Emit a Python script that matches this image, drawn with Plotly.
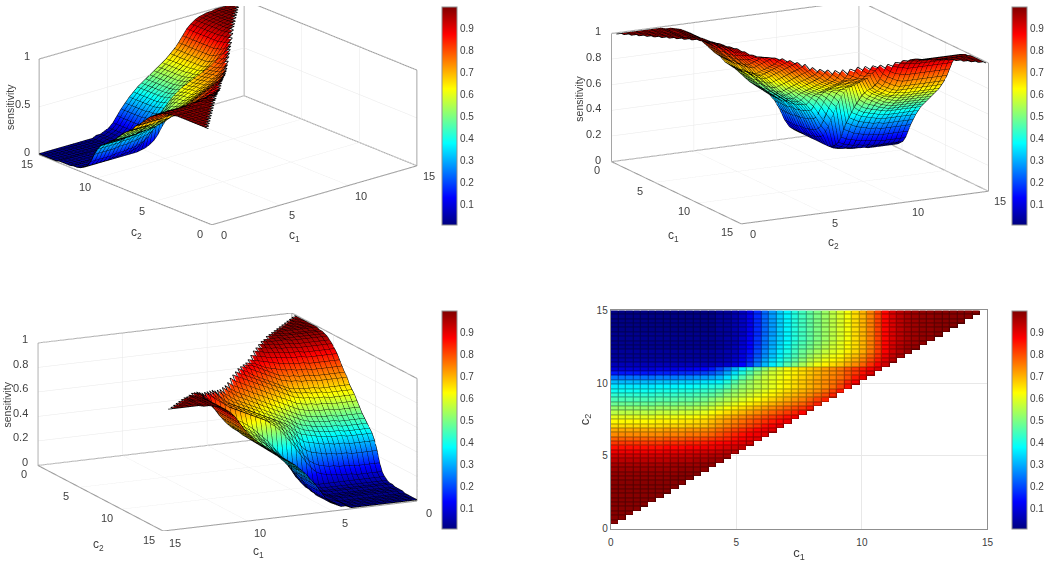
import math
import numpy as np
import plotly.graph_objects as go

c1 = [round(0.3 * i, 1) for i in range(51)]
c2 = [round(0.3 * i, 1) for i in range(51)]

# sensitivity in percent; row k is c2 = 0.3*k and has k cells
sens_rows = [
    [99],
    [99, 99],
    [99, 99, 99],
    [99, 99, 99, 99],
    [99, 99, 99, 99, 99],
    [99, 99, 99, 99, 99, 99],
    [99, 99, 99, 99, 99, 99, 99],
    [99, 99, 99, 99, 99, 99, 99, 99],
    [99, 99, 99, 99, 99, 99, 99, 99, 99],
    [99, 99, 99, 99, 99, 99, 99, 99, 99, 99],
    [98, 98, 98, 98, 98, 98, 98, 98, 99, 99, 99],
    [98, 98, 98, 98, 98, 98, 98, 98, 98, 99, 99, 99],
    [97, 97, 97, 97, 97, 97, 97, 97, 97, 98, 98, 98, 98],
    [96, 96, 96, 96, 96, 96, 96, 96, 97, 97, 97, 97, 98, 98],
    [94, 94, 94, 94, 94, 94, 94, 94, 95, 95, 95, 96, 96, 97, 97],
    [92, 92, 92, 92, 92, 92, 92, 92, 93, 93, 93, 94, 94, 95, 95, 96],
    [89, 89, 89, 89, 89, 89, 89, 90, 90, 90, 91, 91, 92, 92, 93, 94, 95],
    [86, 86, 86, 86, 86, 86, 86, 87, 87, 87, 88, 88, 89, 89, 90, 91, 92, 93],
    [82, 82, 82, 82, 82, 82, 82, 83, 83, 83, 84, 84, 85, 86, 87, 88, 89, 90, 91],
    [78, 78, 78, 78, 78, 78, 78, 79, 79, 79, 80, 80, 81, 82, 83, 84, 86, 88, 89, 90],
    [74, 74, 74, 74, 74, 74, 74, 75, 75, 75, 76, 76, 77, 78, 80, 82, 84, 86, 88, 89, 90],
    [71, 71, 71, 71, 71, 71, 71, 72, 72, 72, 73, 73, 74, 75, 77, 79, 81, 83, 85, 87, 89, 90],
    [66, 66, 66, 66, 66, 66, 66, 67, 67, 67, 68, 68, 69, 71, 73, 75, 77, 79, 81, 83, 86, 88, 90],
    [63, 63, 63, 63, 63, 63, 64, 64, 64, 65, 65, 66, 67, 69, 71, 73, 75, 77, 79, 81, 83, 85, 87, 89],
    [60, 60, 60, 60, 60, 60, 61, 61, 61, 62, 62, 63, 64, 66, 68, 70, 72, 74, 76, 78, 80, 82, 84, 86, 88],
    [56, 56, 56, 56, 56, 56, 57, 57, 57, 58, 58, 59, 60, 62, 64, 66, 68, 70, 72, 74, 76, 78, 80, 82, 84, 87],
    [52, 52, 52, 52, 52, 52, 53, 53, 53, 54, 54, 55, 56, 58, 60, 62, 64, 66, 68, 70, 72, 74, 76, 78, 80, 82, 85],
    [48, 48, 48, 48, 48, 48, 49, 49, 49, 50, 50, 51, 52, 54, 56, 58, 60, 62, 64, 66, 68, 70, 72, 74, 76, 78, 81, 84],
    [45, 45, 45, 45, 45, 45, 46, 46, 46, 47, 47, 48, 49, 51, 53, 55, 57, 59, 61, 63, 65, 67, 69, 71, 73, 75, 78, 81, 84],
    [42, 42, 42, 42, 42, 42, 43, 43, 43, 44, 44, 45, 46, 47, 49, 52, 54, 56, 58, 60, 62, 64, 66, 68, 70, 72, 74, 77, 80, 84],
    [39, 39, 39, 39, 39, 39, 40, 40, 40, 41, 41, 42, 43, 44, 46, 49, 52, 54, 56, 58, 60, 62, 64, 66, 68, 70, 72, 74, 77, 81, 85],
    [36, 36, 36, 36, 36, 36, 37, 37, 37, 38, 38, 39, 40, 41, 42, 45, 49, 52, 54, 56, 58, 60, 62, 64, 66, 68, 70, 72, 74, 77, 81, 86],
    [31, 31, 31, 31, 31, 31, 32, 32, 32, 33, 33, 34, 35, 36, 37, 41, 46, 50, 53, 56, 58, 60, 62, 64, 66, 68, 70, 72, 74, 76, 79, 84, 88],
    [24, 24, 24, 24, 24, 24, 25, 25, 25, 26, 26, 27, 28, 29, 31, 35, 41, 46, 50, 54, 57, 59, 61, 63, 65, 67, 69, 71, 73, 75, 77, 80, 85, 89],
    [15, 15, 15, 15, 15, 15, 16, 16, 16, 17, 17, 18, 19, 21, 24, 29, 35, 41, 46, 51, 55, 58, 60, 62, 64, 66, 68, 70, 72, 74, 76, 79, 82, 86, 90],
    [9, 9, 9, 9, 9, 9, 10, 10, 10, 11, 11, 12, 13, 15, 19, 24, 30, 36, 42, 47, 52, 56, 59, 62, 64, 66, 68, 70, 72, 74, 76, 79, 82, 85, 88, 91],
    [6, 6, 6, 6, 6, 6, 6, 6, 6, 6, 6, 6, 6, 6, 7, 8, 10, 13, 18, 25, 31, 36, 41, 46, 50, 54, 58, 61, 64, 66, 68, 71, 74, 78, 83, 88, 92],
    [4, 4, 4, 4, 4, 4, 4, 4, 4, 4, 4, 4, 4, 4, 5, 6, 8, 11, 16, 23, 29, 34, 39, 43, 47, 51, 55, 58, 61, 63, 65, 68, 71, 75, 80, 85, 90, 94],
    [3, 3, 3, 3, 3, 3, 3, 3, 3, 3, 3, 3, 3, 3, 4, 5, 7, 10, 15, 21, 27, 32, 37, 41, 45, 49, 53, 56, 59, 61, 63, 66, 69, 73, 78, 83, 89, 93, 96],
    [3, 3, 3, 3, 3, 3, 3, 3, 3, 3, 3, 3, 3, 3, 4, 5, 6, 9, 14, 20, 26, 31, 36, 40, 44, 48, 51, 54, 57, 59, 61, 64, 67, 71, 76, 82, 88, 92, 95, 97],
    [2, 2, 2, 2, 2, 2, 2, 2, 2, 2, 2, 2, 2, 2, 3, 4, 6, 9, 13, 19, 25, 30, 35, 39, 43, 46, 49, 52, 55, 58, 60, 63, 66, 70, 75, 81, 87, 92, 95, 97, 98],
    [2, 2, 2, 2, 2, 2, 2, 2, 2, 2, 2, 2, 2, 2, 3, 4, 5, 8, 13, 18, 24, 29, 34, 38, 42, 45, 48, 51, 54, 57, 60, 63, 66, 70, 75, 81, 87, 91, 94, 96, 97, 98],
    [2, 2, 2, 2, 2, 2, 2, 2, 2, 2, 2, 2, 2, 2, 3, 4, 5, 8, 12, 18, 24, 29, 33, 37, 41, 44, 47, 50, 53, 56, 59, 62, 66, 70, 75, 81, 87, 91, 94, 96, 97, 98, 98],
    [2, 2, 2, 2, 2, 2, 2, 2, 2, 2, 2, 2, 2, 2, 3, 3, 5, 7, 12, 17, 23, 28, 33, 37, 41, 44, 47, 50, 53, 56, 59, 62, 66, 70, 75, 81, 87, 91, 94, 96, 97, 98, 98, 99],
    [1, 1, 1, 1, 1, 1, 1, 1, 1, 1, 1, 1, 1, 1, 3, 3, 5, 7, 11, 17, 23, 28, 33, 37, 41, 44, 47, 50, 53, 56, 59, 62, 66, 70, 75, 81, 87, 91, 94, 96, 97, 98, 98, 99, 99],
    [1, 1, 1, 1, 1, 1, 1, 1, 1, 1, 1, 1, 1, 1, 3, 3, 5, 7, 11, 17, 23, 28, 33, 37, 41, 44, 47, 50, 53, 56, 59, 62, 66, 70, 75, 81, 87, 91, 94, 96, 97, 98, 98, 99, 99, 99],
    [1, 1, 1, 1, 1, 1, 1, 1, 1, 1, 1, 1, 1, 1, 3, 3, 5, 7, 11, 17, 23, 28, 33, 37, 41, 44, 47, 50, 53, 56, 59, 62, 66, 70, 75, 81, 87, 91, 94, 96, 97, 98, 98, 99, 99, 99, 99],
    [1, 1, 1, 1, 1, 1, 1, 1, 1, 1, 1, 1, 1, 1, 3, 3, 5, 7, 11, 17, 23, 28, 33, 37, 41, 44, 47, 50, 53, 56, 59, 62, 66, 70, 75, 81, 87, 91, 94, 96, 97, 98, 98, 99, 99, 99, 99, 99],
    [1, 1, 1, 1, 1, 1, 1, 1, 1, 1, 1, 1, 1, 1, 3, 3, 5, 7, 11, 17, 23, 28, 33, 37, 41, 44, 47, 50, 53, 56, 59, 62, 66, 70, 75, 81, 87, 91, 94, 96, 97, 98, 98, 99, 99, 99, 99, 99, 99],
    [1, 1, 1, 1, 1, 1, 1, 1, 1, 1, 1, 1, 1, 1, 3, 3, 5, 7, 11, 17, 23, 28, 33, 37, 41, 44, 47, 50, 53, 56, 59, 62, 66, 70, 75, 81, 87, 91, 94, 96, 97, 98, 98, 99, 99, 99, 99, 99, 99, 99],
]

colorbar_ticks = [0.1, 0.2, 0.3, 0.4, 0.5, 0.6, 0.7, 0.8, 0.9]
z_ticks_top_left = [0, 0.5, 1]
z_ticks = [0, 0.2, 0.4, 0.6, 0.8, 1]
axis_ticks = [0, 5, 10, 15]

JET = [[0, '#000080'], [0.125, '#0000ff'], [0.375, '#00ffff'],
       [0.625, '#ffff00'], [0.875, '#ff0000'], [1, '#800000']]
JET_DARK = [[0, '#00004d'], [0.125, '#000099'], [0.375, '#009999'],
            [0.625, '#999900'], [0.875, '#990000'], [1, '#4d0000']]

W, H = 1050, 568
TEXT = '#404040'
FONT = 'Liberation Sans'
FRAME = '#8f8f8f'
GRID = '#e8e8e8'
Z_MIN, Z_MAX = 0.006, 0.998

sens = np.full((51, 51), np.nan)
for k, row in enumerate(sens_rows, start=1):
    sens[k, :len(row)] = np.array(row) / 100


def px_x(x0, x1):
    return [x0 / W, x1 / W]


def px_y(y0, y1):
    return [1 - y1 / H, 1 - y0 / H]


def colorbar(x0, y0, y1):
    return dict(x=x0 / W, xanchor='left', y=1 - y1 / H, yanchor='bottom',
                len=(y1 - y0) / H, thickness=15, outlinecolor=FRAME, outlinewidth=1,
                tickvals=colorbar_ticks, ticks='', xpad=0, ypad=0,
                tickfont=dict(family=FONT, size=10, color=TEXT))


def eye(azimuth, elevation, dist):
    a, e = math.radians(azimuth), math.radians(elevation)
    return dict(x=dist * math.cos(e) * math.cos(a),
                y=dist * math.cos(e) * math.sin(a),
                z=dist * math.sin(e))


def axis3d(ticks, rng):
    return dict(range=rng, tickvals=ticks, title='',
                showticklabels=False, showbackground=False, showgrid=True,
                gridcolor=GRID, gridwidth=1, zeroline=False, showline=False, ticks='',
                showspikes=False)


def label(x, y, z, text, dx, dy, **kw):
    # dx, dy are pixel offsets, right and down
    return dict(x=x, y=y, z=z, text=text, showarrow=False, xshift=dx, yshift=-dy,
                font=dict(family=FONT, size=kw.pop('size', 11), color=TEXT), **kw)


def scene_labels(c1_at, c2_at, z_at, c1_off, c2_off, z_off, z_vals, c1_title, c2_title, z_title):
    out = []
    for t in axis_ticks:
        out.append(label(t, c1_at, 0, str(t), *c1_off))
        out.append(label(c2_at, t, 0, str(t), *c2_off))
    for t in z_vals:
        out.append(label(z_at[0], z_at[1], t, str(t), *z_off, xanchor='right'))
    out.append(label(7.5, c1_at, 0, 'c<sub>1</sub>', *c1_title, size=12))
    out.append(label(c2_at, 7.5, 0, 'c<sub>2</sub>', *c2_title, size=12))
    out.append(label(z_at[0], z_at[1], 0.5, 'sensitivity', *z_title, textangle=-90, size=10.5))
    return out


def add_surface(fig, scene, cb):
    fig.add_trace(go.Surface(
        x=c1, y=c2, z=sens, scene=scene, colorscale=JET, cmin=Z_MIN, cmax=Z_MAX, colorbar=cb,
        lighting=dict(ambient=1, diffuse=0, specular=0, roughness=1, fresnel=0),
        hoverinfo='skip'))
    # mesh: one polyline per grid row and column
    xs, ys, zs = [], [], []
    for j in range(51):
        for i in range(51):
            if not np.isnan(sens[j, i]):
                xs.append(c1[i]), ys.append(c2[j]), zs.append(sens[j, i])
        xs.append(None), ys.append(None), zs.append(None)
    for i in range(51):
        for j in range(51):
            if not np.isnan(sens[j, i]):
                xs.append(c1[i]), ys.append(c2[j]), zs.append(sens[j, i])
        xs.append(None), ys.append(None), zs.append(None)
    fig.add_trace(go.Scatter3d(x=xs, y=ys, z=zs, mode='lines', scene=scene, showlegend=False,
                               line=dict(color='#000000', width=1.6), hoverinfo='skip'))


def add_frame(fig, scene, corner):
    # back walls and floor outline, from the axis limits
    cx, cy = corner
    ox, oy = 15 - cx, 15 - cy
    xs = [cx, cx, None, ox, ox, None, cx, cx, None, ox, cx, cx, None, cx, ox, ox, cx, cx]
    ys = [cy, cy, None, cy, cy, None, oy, oy, None, cy, cy, oy, None, oy, oy, cy, cy, oy]
    zs = [0, 1, None, 0, 1, None, 0, 1, None, 1, 1, 1, None, 0, 0, 0, 0, 0]
    fig.add_trace(go.Scatter3d(x=xs, y=ys, z=zs, mode='lines', scene=scene, showlegend=False,
                               line=dict(color=FRAME, width=2), hoverinfo='skip'))


def scene_layout(x0, x1, y0, y1, ax, ay, az, azimuth, elevation, center_z, z_vals, annotations):
    return dict(domain=dict(x=px_x(x0, x1), y=px_y(y0, y1)),
                xaxis=axis3d(axis_ticks, [0, 15]), yaxis=axis3d(axis_ticks, [0, 15]),
                zaxis=axis3d(z_vals, [0, 1]),
                aspectmode='manual', aspectratio=dict(x=ax, y=ay, z=az),
                camera=dict(projection=dict(type='orthographic'),
                            center=dict(x=0, y=0, z=center_z),
                            eye=eye(azimuth, elevation, 6)),
                annotations=annotations)


fig = go.Figure()

add_surface(fig, 'scene', colorbar(443, 1, 224))
add_frame(fig, 'scene', (15, 15))
add_surface(fig, 'scene2', colorbar(1018, 1, 224))
add_frame(fig, 'scene2', (0, 15))
add_surface(fig, 'scene3', colorbar(443, 311, 534))
add_frame(fig, 'scene3', (0, 0))

# top-down panel: dark copy underneath shows through the cell gaps as the mesh lines
fig.add_trace(go.Heatmap(x=c1, y=c2, z=sens[:50, :50], colorscale=JET_DARK, zmin=Z_MIN, zmax=Z_MAX,
                         showscale=False, hoverinfo='skip', xaxis='x', yaxis='y'))
fig.add_trace(go.Heatmap(x=c1, y=c2, z=sens[:50, :50], colorscale=JET, zmin=Z_MIN, zmax=Z_MAX,
                         xgap=1, ygap=1, colorbar=colorbar(1018, 311, 534), hoverinfo='skip',
                         xaxis='x', yaxis='y'))

fig.update_layout(
    width=W, height=H, margin=dict(l=0, r=0, t=0, b=0), paper_bgcolor='white', plot_bgcolor='white',
    showlegend=False, font=dict(family=FONT, size=10, color=TEXT),
    scene=scene_layout(0, 454, 0, 224, 2.45, 2.45, 0.93, 229.9, 19.7, -0.03, z_ticks_top_left, scene_labels(
        0, 0, (0, 15), (12, 10), (-12, 9), (-7, -3), z_ticks_top_left,
        (-20, 40), (11, 43), (-29, 0))),
    scene2=scene_layout(576.5, 1030.5, 0, 224, 2.55, 2.55, 1.21, -27.7, 14.3, -0.03, z_ticks, scene_labels(
        0, 15, (0, 0), (-14, 8), (12, 10), (-8, -2), z_ticks,
        (-2, 43), (-31, 35), (-32, 1))),
    scene3=scene_layout(0, 453, 314, 537, 2.58, 2.68, 1.16, 64.6, 14.4, 0, z_ticks, scene_labels(
        15, 15, (15, 0), (12, 11), (-14, 8), (-8, -4), z_ticks,
        (-32, 35), (-2, 46), (-31, 0))),
    xaxis=dict(domain=px_x(613, 993), range=[0, 15], tickvals=axis_ticks, ticks='outside', ticklen=4,
               tickcolor='rgba(0,0,0,0)', showgrid=True,
               gridcolor=GRID, zeroline=False, showline=True, linecolor=FRAME, mirror=True,
               title=dict(text='c<sub>1</sub>', standoff=1, font=dict(size=13, color=TEXT)),
               tickfont=dict(size=10, color=TEXT)),
    yaxis=dict(domain=px_y(311, 534), range=[0, 15], tickvals=axis_ticks, ticks='', showgrid=True,
               gridcolor=GRID, zeroline=False, showline=True, linecolor=FRAME, mirror=True,
               title=dict(text='c<sub>2</sub>', standoff=4, font=dict(size=13, color=TEXT)),
               tickfont=dict(size=10, color=TEXT)),
)

fig.write_html("out.html", config=dict(displayModeBar=False),
               post_script="document.body.style.margin='0';")
